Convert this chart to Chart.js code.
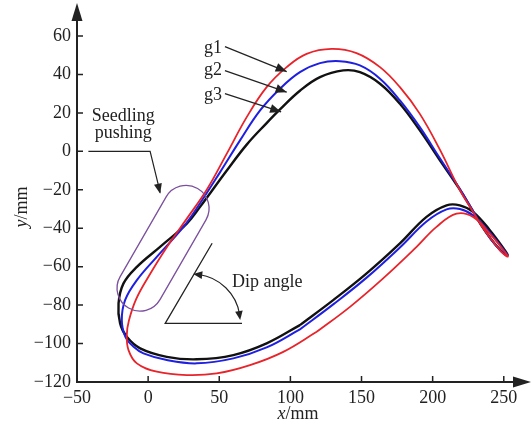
<!DOCTYPE html>
<html>
<head>
<meta charset="utf-8">
<script src="https://cdn.jsdelivr.net/npm/chart.js@4.4.0/dist/chart.umd.min.js"></script>
<style>
  html,body{margin:0;padding:0;background:#fff}
  canvas{display:block}
</style>
</head>
<body>
<canvas id="c" width="532" height="432"></canvas>
<script>
// axis ticks
const xTicks = [-50, 0, 50, 100, 150, 200, 250];
const yTicks = [-120, -100, -80, -60, -40, -20, 0, 20, 40, 60];

// g1 (red) closed trajectory (lower branch -> tip -> upper branch -> back)
const g1X = [118.5, 141.9, 165.2, 188.7, 202.7, 216.8, 228.4, 240.2, 250.7, 252.8,
  248, 242, 235, 228, 219, 205, 191, 177, 163, 146.5, 129, 111.4, 97.4, 83.3, 69.3, 55.3, 41.2, 27.2, 13, 0,
  -8.5, -13.5, -15, -13.8, -7.9, 6.1, 27.2, 48.2, 71.6, 95, 118.5];
const g1Y = [-93.9, -80.9, -66.1, -49.7, -39.3, -32.4, -34.1, -42.8, -52.3, -54.8,
  -52, -46.5, -39.5, -31, -20, 1, 19.5, 33.4, 43.8, 51.1, 53.3, 50.7, 43.8, 33.4, 17.8, -1.2, -20, -35, -50, -65.5,
  -77, -88, -95.5, -103.4, -110.3, -114.6, -116.4, -115.5, -111.2, -104.3, -93.9];

// g2 (blue)
const g2X = [106.7, 130.1, 153.6, 177, 195.7, 209.8, 219.1, 228.4, 240.2, 250.7, 252.6,
  248, 241, 234, 228, 218.6, 205, 191, 177, 163, 148.9, 134.8, 120.8, 106.7, 92.7, 78.7, 64.6, 50.6, 36.5, 24.8, 6.1,
  -7.9, -16.2, -18.5, -16, -10, -3.3, 13.1, 34.2, 59.9, 83.3, 106.7];
const g2Y = [-92.6, -79.6, -65.7, -50, -36.5, -30.2, -30, -33.3, -42.3, -52, -54.2,
  -51.8, -45.8, -38, -30.5, -19, -3.5, 12.6, 26.5, 37.8, 44.7, 46.9, 45.9, 41.2, 32.6, 21.3, 5.7, -10.8, -27, -39.3, -54.9,
  -67, -77.4, -87.8, -96.5, -101.8, -105.1, -108.6, -110.3, -107.7, -102, -92.6];

// g3 (black)
const g3X = [106.7, 130.1, 153.6, 177, 195.7, 209.8, 219.1, 228.4, 240.2, 250.7, 252.6,
  248, 241, 234, 228, 218.6, 205, 191, 177, 163, 148.9, 137.2, 120.8, 106.7, 92.7, 83.3, 69.3, 55.3, 36.5, 27.2, 8.4,
  -7.9, -17.3, -20.8, -19.7, -15, -5.6, 13.1, 34.2, 59.9, 83.3, 106.7];
const g3Y = [-90.4, -77.4, -63.5, -47.9, -34.1, -28.1, -28.1, -31.5, -41, -51.4, -54,
  -51.6, -45.6, -38.2, -30.7, -19.3, -4.5, 10.9, 24.8, 35.2, 41.2, 42.1, 38.6, 31.5, 21.8, 14.7, 3.5, -10, -28.9, -37.6, -49.7,
  -60.1, -68.7, -79.1, -89.5, -96.5, -102.5, -106.9, -108.2, -106, -99.9, -90.4];

function pts(xs, ys){ return xs.map((x,i)=>({x:x, y:ys[i]})) }
function minus(v){ return v < 0 ? '\u2212' + Math.abs(v) : String(v) }

const serif = '"Liberation Serif", "DejaVu Serif", serif';
const ink = '#222';

function head(ctx, fx, fy, tx, ty, len, w){
  const a = Math.atan2(ty-fy, tx-fx);
  ctx.beginPath();
  ctx.moveTo(tx, ty);
  ctx.lineTo(tx - len*Math.cos(a) + w*Math.sin(a), ty - len*Math.sin(a) - w*Math.cos(a));
  ctx.lineTo(tx - len*Math.cos(a) - w*Math.sin(a), ty - len*Math.sin(a) + w*Math.cos(a));
  ctx.closePath();
  ctx.fill();
}

// rounded capsule shape: centre, half length of straight part, cap radius, angle
function capsule(ctx, cx, cy, L, r, ang){
  ctx.save();
  ctx.translate(cx, cy); ctx.rotate(ang);
  ctx.beginPath();
  ctx.moveTo(-L, -r); ctx.lineTo(L, -r);
  ctx.arc(L, 0, r, -Math.PI/2, Math.PI/2);
  ctx.lineTo(-L, r);
  ctx.arc(-L, 0, r, Math.PI/2, Math.PI*1.5);
  ctx.closePath();
  ctx.restore();
  ctx.stroke();
}

const decor = {
  id: 'decor',
  afterDraw(chart){
    const {ctx, scales:{x, y}, chartArea:ca} = chart;
    const X = v => x.getPixelForValue(v), Y = v => y.getPixelForValue(v);
    ctx.save();
    ctx.strokeStyle = ink; ctx.fillStyle = ink;

    // axes with arrows
    ctx.lineWidth = 2;
    ctx.beginPath();
    ctx.moveTo(ca.left, ca.bottom); ctx.lineTo(ca.left, 14);
    ctx.moveTo(ca.left-1, ca.bottom); ctx.lineTo(520, ca.bottom);
    ctx.stroke();
    head(ctx, ca.left, 40, ca.left, 3, 18, 5.5);
    head(ctx, 480, ca.bottom, 531, ca.bottom, 18, 5.5);

    // inward tick marks
    ctx.lineWidth = 1.5;
    ctx.beginPath();
    yTicks.forEach(v=>{ ctx.moveTo(ca.left, Y(v)); ctx.lineTo(ca.left+6, Y(v)); });
    xTicks.forEach(v=>{ ctx.moveTo(X(v), ca.bottom); ctx.lineTo(X(v), ca.bottom-6); });
    ctx.stroke();

    // axis titles
    ctx.textBaseline = 'middle';
    ctx.font = 'italic 18px ' + serif;
    const wx = ctx.measureText('x').width;
    ctx.font = '18px ' + serif;
    const wm = ctx.measureText('/mm').width;
    let sx = 298 - (wx+wm)/2;
    ctx.textAlign = 'left';
    ctx.font = 'italic 18px ' + serif; ctx.fillText('x', sx, 414);
    ctx.font = '18px ' + serif; ctx.fillText('/mm', sx+wx, 414);
    ctx.save();
    ctx.translate(22, 207); ctx.rotate(-Math.PI/2);
    ctx.font = 'italic 18px ' + serif;
    const wy = ctx.measureText('y').width;
    sx = -(wy+wm)/2;
    ctx.fillText('y', sx, 0);
    ctx.font = '18px ' + serif; ctx.fillText('/mm', sx+wy, 0);
    ctx.restore();

    // g labels with arrows
    ctx.font = '18px ' + serif;
    ctx.textAlign = 'center';
    const gl = [['g1', 45.6, 53.5, 54, 54.5, 97.4, 41.5], ['g2', 45.6, 42, 54, 42, 97.4, 30.8], ['g3', 45.6, 29, 54, 30, 93.5, 20.5]];
    ctx.lineWidth = 1.2;
    gl.forEach(g=>{
      ctx.fillText(g[0], X(g[1]), Y(g[2]));
      ctx.beginPath(); ctx.moveTo(X(g[3]), Y(g[4])); ctx.lineTo(X(g[5]), Y(g[6])); ctx.stroke();
      head(ctx, X(g[3]), Y(g[4]), X(g[5]), Y(g[6]), 11, 4.5);
    });

    // seedling pushing
    ctx.fillText('Seedling', X(-17.5), Y(18.5));
    ctx.fillText('pushing', X(-17.5), Y(9.2));
    ctx.beginPath();
    ctx.moveTo(X(-42), Y(0)); ctx.lineTo(X(1.4), Y(0)); ctx.lineTo(X(8.5), Y(-21.5));
    ctx.stroke();
    head(ctx, X(1.4), Y(0), X(8.5), Y(-22), 10, 4);
    ctx.strokeStyle = '#7b4f9d'; ctx.lineWidth = 1.3;
    capsule(ctx, X(10.5), Y(-50.4), 46, 23, -Math.PI/3);

    // dip angle
    ctx.strokeStyle = ink; ctx.lineWidth = 1.3;
    ctx.beginPath();
    ctx.moveTo(X(45), Y(-47.8)); ctx.lineTo(X(12), Y(-89.5)); ctx.lineTo(X(66), Y(-89.5));
    ctx.stroke();
    const cx = X(31), cy = Y(-88.8), r = 48;
    const a0 = -88.8*Math.PI/180, a1 = -2.4*Math.PI/180;
    ctx.lineWidth = 1.1;
    ctx.beginPath(); ctx.arc(cx, cy, r, a0+0.12, a1-0.12); ctx.stroke();
    head(ctx, cx + r*Math.cos(a0+0.2), cy + r*Math.sin(a0+0.2), cx + r*Math.cos(a0), cy + r*Math.sin(a0), 9, 3.8);
    head(ctx, cx + r*Math.cos(a1-0.2), cy + r*Math.sin(a1-0.2), cx + r*Math.cos(a1), cy + r*Math.sin(a1), 9, 3.8);
    ctx.textAlign = 'left';
    ctx.fillText('Dip angle', 232, 282);

    ctx.restore();
  }
};

const lineDs = (label, data, color, w) => ({
  label: label, data: data, showLine: true, borderColor: color, borderWidth: w,
  pointRadius: 0, tension: 0.4, fill: false
});

new Chart(document.getElementById('c'), {
  type: 'scatter',
  data: {
    datasets: [
      lineDs('g1', pts(g1X, g1Y), '#e8232a', 1.8),
      lineDs('g2', pts(g2X, g2Y), '#1f1fe0', 2),
      lineDs('g3', pts(g3X, g3Y), '#111111', 2.4)
    ]
  },
  options: {
    responsive: false,
    animation: false,
    layout: { padding: { left: 0, top: 16, right: 14, bottom: 0 } },
    plugins: { legend: { display: false }, tooltip: { enabled: false } },
    scales: {
      x: {
        type: 'linear', min: -50, max: 260,
        grid: { display: false, drawTicks: false }, border: { display: false },
        afterBuildTicks: s => { s.ticks = xTicks.map(v => ({value: v})); },
        afterFit: s => { s.height = 50; },
        ticks: { color: ink, padding: 5, font: { family: serif, size: 18 }, callback: minus, maxRotation: 0 }
      },
      y: {
        type: 'linear', min: -120, max: 70,
        grid: { display: false, drawTicks: false }, border: { display: false },
        afterBuildTicks: s => { s.ticks = yTicks.map(v => ({value: v})); },
        afterFit: s => { s.width = 77; },
        ticks: { color: ink, padding: 6, font: { family: serif, size: 18 }, callback: minus }
      }
    }
  },
  plugins: [decor]
});
</script>
</body>
</html>
